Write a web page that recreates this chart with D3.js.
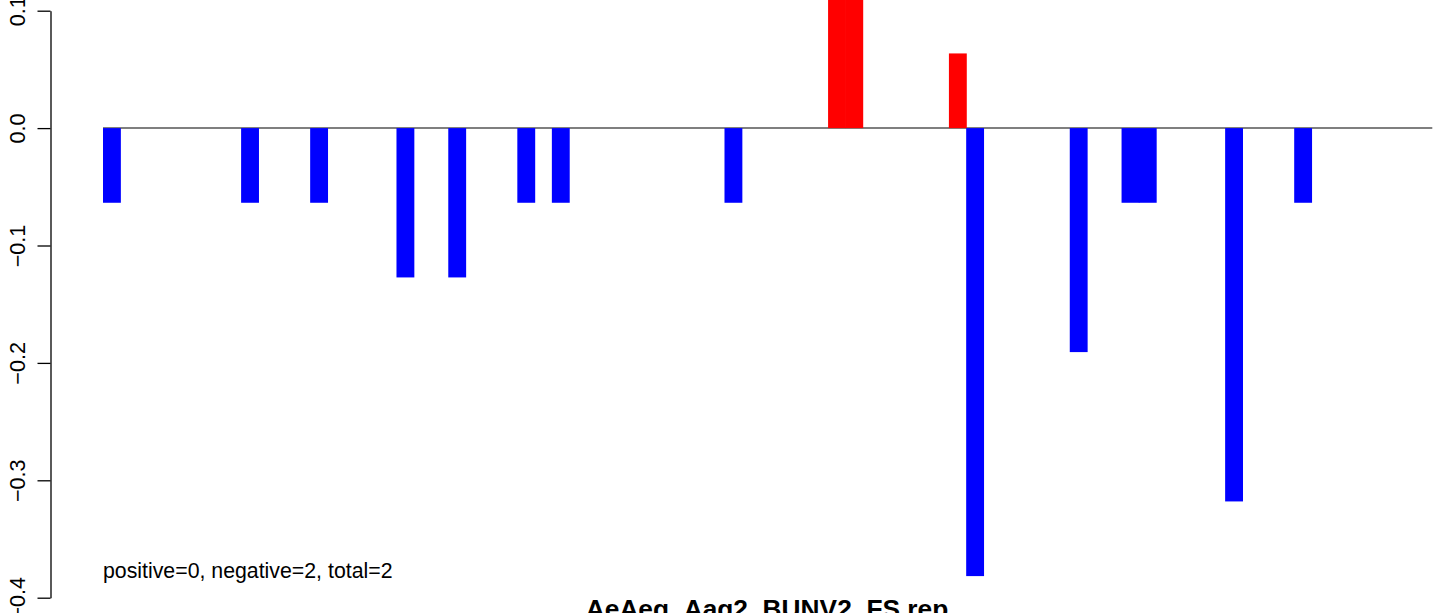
<!DOCTYPE html>
<html>
<head>
<meta charset="utf-8">
<script src="https://cdn.jsdelivr.net/npm/d3@7"></script>
<style>
  html, body { margin: 0; padding: 0; background: #fff; }
  svg { display: block; font-family: "Liberation Sans", Arial, Helvetica, sans-serif; }
</style>
</head>
<body>
<svg id="chart" width="1444" height="613"></svg>
<script>
// ---- data ----
const categories = d3.range(1, 78).map(String);   // 77 positions
const barIndex  = [0, 8, 12, 17, 20, 24, 26, 36, 42, 43, 49, 50, 56, 59, 60, 65, 69];
const barValues = [-0.0636, -0.0636, -0.0636, -0.1272, -0.1272, -0.0636, -0.0636, -0.0636,
                    0.1272, 0.1272, 0.0636, -0.3816, -0.1908, -0.0636, -0.0636, -0.318, -0.0636];
const barColors = ["blue","blue","blue","blue","blue","blue","blue","blue",
                   "red","red","red","blue","blue","blue","blue","blue","blue"];
const values = categories.map(() => 0);
barIndex.forEach((k, i) => { values[k] = barValues[i]; });
const colorOf = categories.map(() => "blue");
barIndex.forEach((k, i) => { colorOf[k] = barColors[i]; });
const yTicks = [-0.4, -0.3, -0.2, -0.1, 0.0, 0.1];
const title = "AeAeg_Aag2_BUNV2_FS.rep";
const note = "positive=0, negative=2, total=2";

// ---- layout ----
const svg = d3.select("#chart");
const x = d3.scaleBand().domain(categories).range([103, 1432.3]).paddingInner(0).paddingOuter(0);
const y = d3.scaleLinear().domain([-0.4, 0.1]).range([597.7, 10.7]);

// zero line
svg.append("line")
  .attr("x1", x.range()[0]).attr("x2", x.range()[1])
  .attr("y1", y(0)).attr("y2", y(0))
  .attr("stroke", "#555").attr("stroke-width", 1.5);

// bars (slight overlap so adjacent bars have no seam)
svg.append("g").selectAll("rect")
  .data(categories.map((c, i) => ({c, v: values[i], col: colorOf[i]})).filter(d => d.v !== 0))
  .join("rect")
  .attr("x", d => x(d.c))
  .attr("width", x.bandwidth() + 0.6)
  .attr("y", d => Math.min(y(d.v), y(0)))
  .attr("height", d => Math.abs(y(d.v) - y(0)))
  .attr("fill", d => d.col);

// y axis
const axis = svg.append("g")
  .attr("transform", "translate(50.5,0)")
  .call(d3.axisLeft(y).tickValues(yTicks).tickSize(13).tickSizeOuter(0).tickFormat(d3.format(".1f")));
axis.select(".domain").attr("stroke", "#000").attr("stroke-width", 1.3);
axis.selectAll(".tick line").attr("stroke", "#000").attr("stroke-width", 1.3);
axis.selectAll(".tick text")
  .attr("transform", "rotate(-90)")
  .attr("x", 0).attr("y", -26).attr("dy", 0)
  .attr("text-anchor", "middle")
  .attr("fill", "#000")
  .style("font-size", "21.6px")
  .style("font-family", "'Liberation Sans', Arial, Helvetica, sans-serif");

// note text
svg.append("text")
  .attr("x", 103).attr("y", 578)
  .style("font-size", "21.3px")
  .attr("fill", "#000")
  .text(note);

// title (partly cut off at bottom, as in the reference)
svg.append("text")
  .attr("x", 767).attr("y", 618)
  .attr("text-anchor", "middle")
  .style("font-size", "26.3px").style("font-weight", "bold")
  .attr("fill", "#000")
  .text(title);
</script>
</body>
</html>
